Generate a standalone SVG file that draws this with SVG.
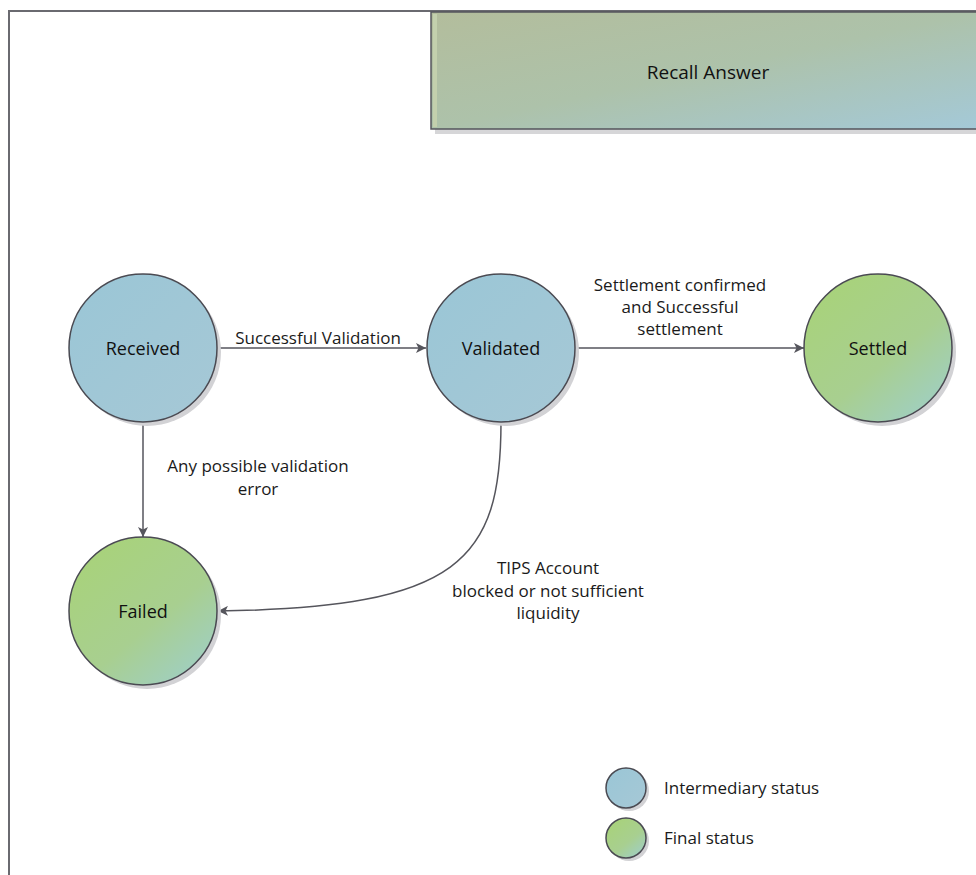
<svg xmlns="http://www.w3.org/2000/svg" width="976" height="875" viewBox="0 0 976 875">
<style>
  .lbl{font-family:"Open Sans","Liberation Sans",sans-serif;font-size:17px;fill:#1a1a1a;text-anchor:middle}
  .node-text{font-family:"Open Sans","Liberation Sans",sans-serif;font-size:18px;fill:#111;text-anchor:middle;dominant-baseline:central}
  .circ{stroke:#4a4a52;stroke-width:1.5}
  .shadow{fill:#d2d2d5}
  .conn{fill:none;stroke:#55555c;stroke-width:1.5}
  .frame{fill:none;stroke:#6a6a70;stroke-width:2}
</style>
<defs>
  <linearGradient id="blue" x1="0" y1="0" x2="1" y2="1">
    <stop offset="0" stop-color="#9ac6d6"/>
    <stop offset="1" stop-color="#a6c8d6"/>
  </linearGradient>
  <linearGradient id="green" x1="0.2" y1="0.1" x2="0.9" y2="0.95">
    <stop offset="0" stop-color="#a8d27c"/>
    <stop offset="0.55" stop-color="#a8cf90"/>
    <stop offset="1" stop-color="#9fcfc6"/>
  </linearGradient>
  <linearGradient id="box" x1="0" y1="0" x2="1" y2="1">
    <stop offset="0" stop-color="#b3bd9c"/>
    <stop offset="0.5" stop-color="#adc2aa"/>
    <stop offset="1" stop-color="#a4c9d8"/>
  </linearGradient>
  <marker id="arr" viewBox="0 0 10 10" refX="10" refY="5" markerWidth="10" markerHeight="10" markerUnits="userSpaceOnUse" orient="auto">
    <path d="M0,0 L10,5 L0,10 L2.5,5 Z" fill="#55555c"/>
  </marker>
</defs>
<rect width="976" height="875" fill="#ffffff"/>
<g id="frame">
  <path class="frame" d="M9,875 L9,11 L976,11"/>
</g>
<g id="recall-answer">
  <rect x="435" y="16" width="545" height="118" fill="#d6d6d8"/>
  <rect x="431" y="12" width="549" height="117" fill="url(#box)" stroke="#55555c" stroke-width="1.5"/>
  <rect x="433" y="14" width="4" height="113" fill="#c3d0ad"/>
  <text class="node-text" x="708" y="72" style="font-size:19px">Recall Answer</text>
</g>
<g id="connectors">
  <line class="conn" x1="217" y1="348" x2="426" y2="348" marker-end="url(#arr)"/>
  <line class="conn" x1="576" y1="348" x2="804" y2="348" marker-end="url(#arr)"/>
  <line class="conn" x1="143" y1="422" x2="143" y2="537" marker-end="url(#arr)"/>
  <path class="conn" d="M501,422 C501,560 460,608 218,611" marker-end="url(#arr)"/>
  <text class="lbl" x="318" y="344">Successful Validation</text>
  <text class="lbl" x="680" y="291">Settlement confirmed</text>
  <text class="lbl" x="680" y="313">and Successful</text>
  <text class="lbl" x="680" y="335">settlement</text>
  <text class="lbl" x="258" y="472">Any possible validation</text>
  <text class="lbl" x="258" y="495">error</text>
  <text class="lbl" x="548" y="574">TIPS Account</text>
  <text class="lbl" x="548" y="597">blocked or not sufficient</text>
  <text class="lbl" x="548" y="619">liquidity</text>
</g>
<g id="received">
  <circle class="shadow" cx="147" cy="352" r="74"/>
  <circle class="circ" cx="143" cy="348" r="74" fill="url(#blue)"/>
  <text class="node-text" x="143" y="348">Received</text>
</g>
<g id="validated">
  <circle class="shadow" cx="505" cy="352" r="74"/>
  <circle class="circ" cx="501" cy="348" r="74" fill="url(#blue)"/>
  <text class="node-text" x="501" y="348">Validated</text>
</g>
<g id="settled">
  <circle class="shadow" cx="882" cy="352" r="74"/>
  <circle class="circ" cx="878" cy="348" r="74" fill="url(#green)"/>
  <text class="node-text" x="878" y="348">Settled</text>
</g>
<g id="failed">
  <circle class="shadow" cx="147" cy="615" r="74"/>
  <circle class="circ" cx="143" cy="611" r="74" fill="url(#green)"/>
  <text class="node-text" x="143" y="611">Failed</text>
</g>
<g id="legend-intermediary">
  <circle class="shadow" cx="629" cy="791" r="20"/>
  <circle class="circ" cx="626" cy="788" r="20" fill="url(#blue)"/>
  <text class="lbl" x="664" y="794" style="text-anchor:start">Intermediary status</text>
</g>
<g id="legend-final">
  <circle class="shadow" cx="629" cy="841" r="20"/>
  <circle class="circ" cx="626" cy="838" r="20" fill="url(#green)"/>
  <text class="lbl" x="664" y="844" style="text-anchor:start">Final status</text>
</g>
</svg>
